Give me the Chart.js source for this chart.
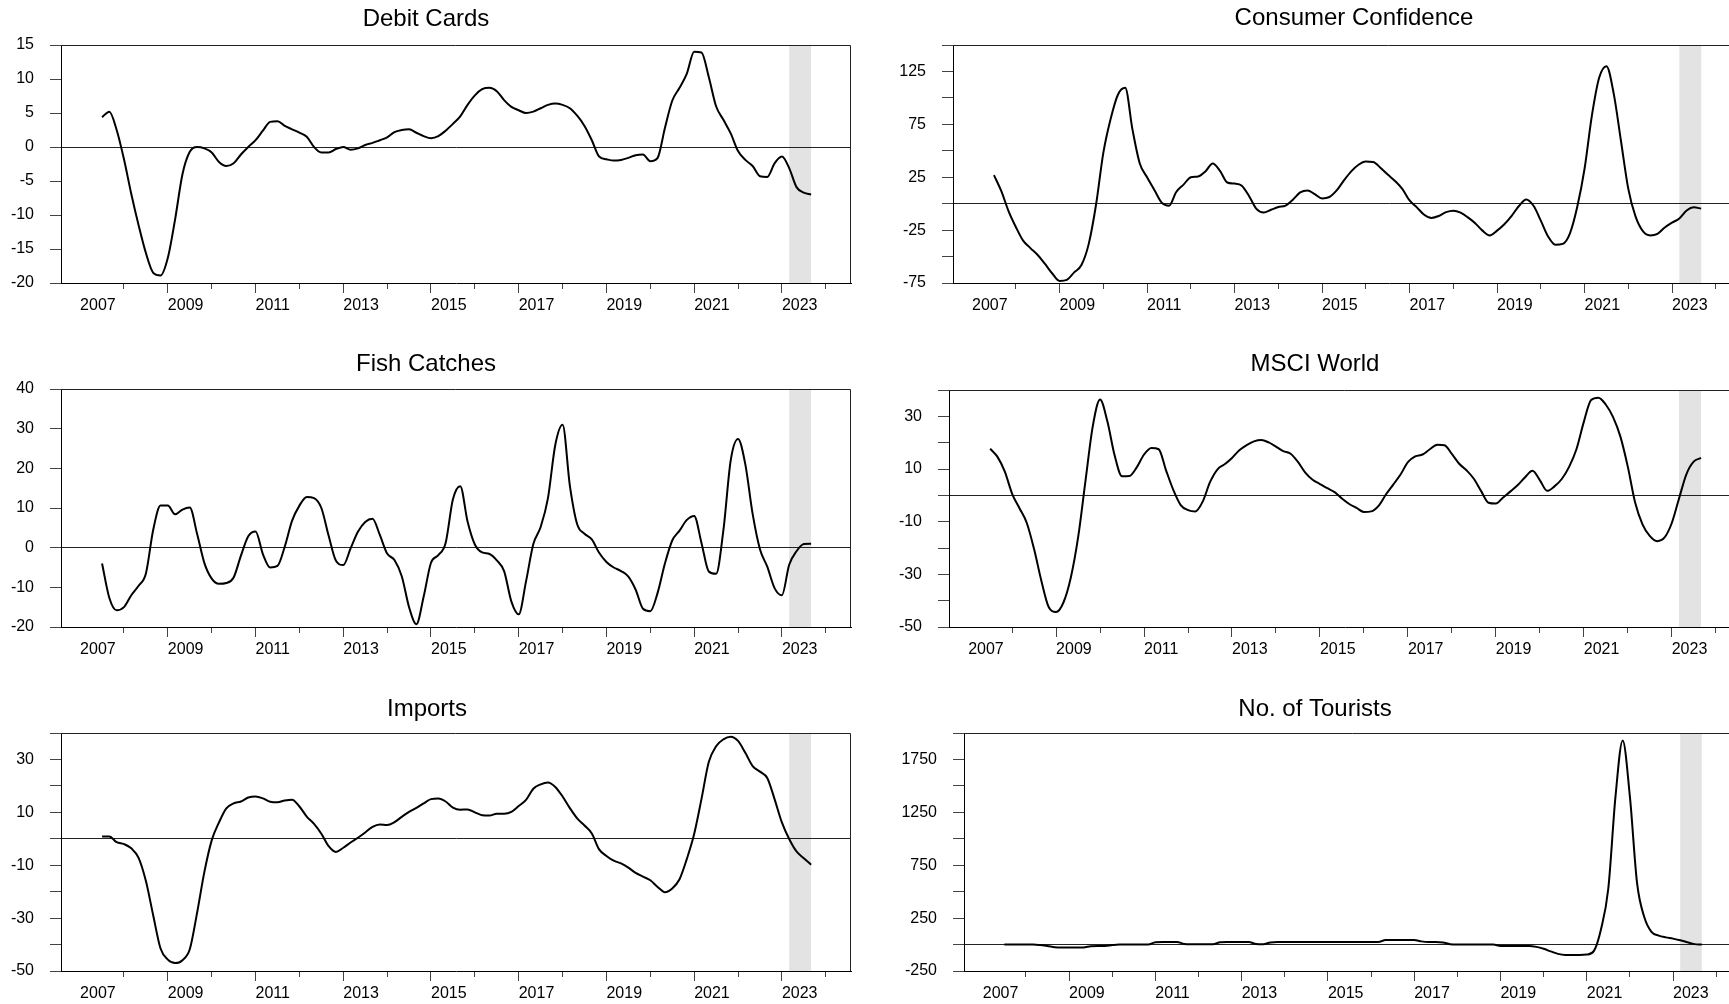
<!DOCTYPE html>
<html>
<head>
<meta charset="utf-8">
<script src="https://cdn.jsdelivr.net/npm/chart.js@4.4.0/dist/chart.umd.min.js"></script>
<style>
  html, body { margin: 0; padding: 0; background: #fff; overflow: hidden; }
  body { width: 1729px; height: 1004px; position: relative; }
  canvas { position: absolute; }
</style>
</head>
<body>
<script>
// observations every second month, Jul 2007 .. Sep 2023
const firstObs = 2007.5;
const obsStep = 1 / 6;
const yearTicks = [2007, 2008, 2009, 2010, 2011, 2012, 2013, 2014, 2015, 2016, 2017, 2018, 2019, 2020, 2021, 2022, 2023, 2024];
const yearLabels = [2007, 2009, 2011, 2013, 2015, 2017, 2019, 2021, 2023];
const xRange = [2006.564, 2024.576];
const shadeRange = [2023 + 2 / 12, 2023 + 8 / 12];

const titles = ['Debit Cards', 'Consumer Confidence', 'Fish Catches', 'MSCI World', 'Imports', 'No. of Tourists'];

const debitCards = [4.4, 5.2, 2.5, -1.8, -6.9, -11.5, -15.6, -18.5, -18.9, -16.3,
  -10.6, -4.0, -0.7, 0.0, -0.2, -0.8, -2.2, -2.8, -2.4, -1.1,
  0.0, 1.0, 2.4, 3.7, 3.8, 3.1, 2.6, 2.1, 1.5, 0.0,
  -0.8, -0.8, -0.3, 0.0, -0.4, -0.2, 0.3, 0.6, 1.0, 1.4,
  2.2, 2.5, 2.6, 2.1, 1.6, 1.3, 1.6, 2.4, 3.4, 4.5,
  6.2, 7.6, 8.5, 8.7, 8.2, 6.9, 5.9, 5.4, 5.0, 5.2,
  5.7, 6.2, 6.4, 6.2, 5.7, 4.6, 3.1, 1.0, -1.4, -1.8,
  -2.0, -1.9, -1.6, -1.2, -1.1, -2.1, -1.6, 2.8, 6.8, 8.7,
  10.8, 14.0, 13.9, 10.3, 6.0, 4.0, 2.0, -0.6, -1.9, -2.8,
  -4.3, -4.4, -2.4, -1.4, -3.1, -5.9, -6.7, -7.0];

const consumerConfidence = [27, 12, -7, -22, -35, -42, -48.5, -57, -66, -73,
  -72, -65, -58, -38, -1, 48, 80, 103, 109.5, 70,
  38, 25, 13, 1, -2, 11, 18, 25, 25.7, 30.5,
  38, 31, 20, 19, 17, 7, -5, -8.4, -5.8, -3.2,
  -1.8, 3.8, 10.6, 12.5, 9, 5, 6.3, 12.5, 22, 30.5,
  36.8, 39.8, 39.5, 34, 27.5, 21.5, 14, 3, -3.5, -10.5,
  -13.5, -11.7, -8, -6.6, -8.5, -13, -18.5, -25.5, -30, -25.5,
  -19.5, -11.5, -2.2, 4, -2, -16, -31, -38.8, -38, -28,
  -3, 33, 83, 119, 130, 104, 59, 14, -12.3, -26,
  -30, -28.5, -22.5, -18, -14, -6.5, -3.5, -4.7];

const fishCatches = [-4, -12.7, -15.8, -15, -12, -9.6, -6.5, 4.5, 10.6, 10.6,
  8.4, 9.6, 10.1, 3.5, -3.9, -7.8, -9.1, -8.9, -7.5, -2,
  2.9, 4.1, -1.6, -5, -4.6, 0.3, 6.8, 10.6, 12.8, 12.5,
  10, 3, -3.3, -4.4, -0.2, 4, 6.5, 7.3, 3.2, -1.5,
  -3.1, -7.2, -15, -19.3, -12.3, -3.8, -1.9, 1.2, 12.2, 15.5,
  6.6, 0.8, -1.2, -1.6, -3.2, -5.9, -13.6, -16.8, -8.5, 0.9,
  5.2, 12.5, 25.9, 31, 15.6, 5.9, 3.5, 2.1, -1.3, -3.6,
  -5, -5.9, -7.3, -10.6, -15.4, -16, -11.4, -4, 1.8, 4.3,
  7, 8, 1.2, -6, -6.6, 4.4, 22, 27.4, 21, 8.5,
  -0.4, -4.8, -10.2, -12, -4.3, -0.9, 0.9, 1.0];

const msciWorld = [17.7, 14.6, 9, 0.6, -4.9, -10.5, -20.5, -32.6, -42.5, -44.3,
  -40.7, -31.3, -16, 5.3, 26.2, 36.4, 28, 15, 7.2, 7.3,
  10.6, 15.5, 18, 17.5, 9.5, 2, -3.7, -5.6, -6.1, -2.4,
  5, 9.8, 11.8, 14.2, 17.1, 19.1, 20.5, 21, 20.1, 18.5,
  16.8, 15.8, 12.7, 8.6, 5.9, 4.3, 2.7, 1.2, -1.2, -3.3,
  -4.8, -6.3, -6.1, -4, 0.3, 4.1, 7.9, 12.6, 14.8, 15.5,
  17.5, 19.2, 19, 15.7, 12, 9.5, 6.3, 1.6, -2.8, -3.1,
  -0.8, 1.5, 3.9, 6.9, 9.3, 5.8, 1.7, 3.4, 6.2, 10.8,
  17.5, 27.8, 36.2, 37.1, 34.5, 29.7, 22.3, 11, -2.6, -10.9,
  -15.4, -17.4, -16.1, -10.6, -1.2, 8, 12.8, 14.2];

const imports = [0.9, 0.9, -1.3, -2, -3.6, -7.2, -16, -29, -41.5, -45.7,
  -47, -45.9, -41.8, -28, -12.5, -0.6, 6.2, 11.5, 13.4, 14.1,
  15.6, 16, 15.3, 14, 13.8, 14.5, 14.8, 12.2, 8.4, 5.6,
  1.9, -2.8, -5, -3.4, -1.4, 0.4, 2.4, 4.5, 5.4, 5.2,
  6.3, 8.3, 10.2, 11.7, 13.4, 15, 15.2, 14.1, 11.8, 11,
  11.1, 10, 8.9, 8.8, 9.5, 9.5, 10.2, 12.4, 14.7, 18.9,
  20.6, 21.3, 19.6, 16, 11.6, 7.7, 5, 2, -4, -6.5,
  -8.3, -9.3, -10.9, -12.9, -14.3, -15.7, -18.2, -20.2, -18.8, -15.3,
  -7.6, 1.8, 15, 29, 35, 37.6, 38.6, 37, 32.5, 27.5,
  25.4, 23, 15, 6.2, -0.1, -4.8, -7.4, -9.8];

const tourists = [0, 0, 0, 0, 0, -5, -13, -25, -28, -28,
  -28, -28, -15, -13, -13, -5, 0, 0, 0, 0,
  0, 22, 25, 25, 25, 6, 3, 3, 3, 3,
  22, 25, 25, 25, 25, 5, 3, 20, 25, 25,
  25, 25, 25, 25, 25, 25, 25, 25, 25, 25,
  25, 25, 25, 42, 44, 44, 44, 44, 30, 25,
  25, 20, 3, 0, 0, 0, 0, 0, 0, -13,
  -13, -13, -13, -13, -22, -40, -65, -88, -98, -98,
  -98, -95, -60, 150, 530, 1400, 1930, 1400, 580, 260,
  120, 85, 68, 56, 40, 22, 4, 0];

const debitTicks = [-20, -15, -10, -5, 0, 5, 10, 15];
const debitLabels = [-20, -15, -10, -5, 0, 5, 10, 15];
const confTicks = [-75, -50, -25, 0, 25, 50, 75, 100, 125, 150];
const confLabels = [-75, -25, 25, 75, 125];
const fishTicks = [-20, -10, 0, 10, 20, 30, 40];
const fishLabels = [-20, -10, 0, 10, 20, 30, 40];
const msciTicks = [-50, -40, -30, -20, -10, 0, 10, 20, 30, 40];
const msciLabels = [-50, -30, -10, 10, 30];
const importTicks = [-50, -40, -30, -20, -10, 0, 10, 20, 30, 40];
const importLabels = [-50, -30, -10, 10, 30];
const touristTicks = [-250, 0, 250, 500, 750, 1000, 1250, 1500, 1750, 2000];
const touristLabels = [-250, 250, 750, 1250, 1750];

const obsDates = [];
for (let i = 0; i < debitCards.length; i++) obsDates.push(firstObs + i * obsStep);

// page geometry: plot box, title centre, and how far the canvas runs right
const boxes = [
  {L: 61, T: 45, R: 851, B: 283, tx: 426, ty: 19, ext: 851},
  {L: 953, T: 45, R: 1741, B: 283, tx: 1354, ty: 18, ext: 1825},
  {L: 61, T: 389, R: 851, B: 627, tx: 426, ty: 364, ext: 851},
  {L: 949, T: 390, R: 1741, B: 627, tx: 1315, ty: 364, ext: 1741},
  {L: 61, T: 733, R: 851, B: 971, tx: 427, ty: 709, ext: 851},
  {L: 964, T: 733, R: 1741, B: 971, tx: 1315, ty: 709, ext: 1741}
];
const TITLE_SIZE = 24;

Chart.defaults.font.family = '"Liberation Sans", Arial, Helvetica, sans-serif';
Chart.defaults.font.size = 16;
Chart.defaults.color = '#000';

const frame = {
  id: 'frame',
  beforeDraw(chart) {
    const {ctx, chartArea: a, scales: {x}} = chart;
    const x0 = x.getPixelForValue(shadeRange[0]);
    const x1 = x.getPixelForValue(shadeRange[1]);
    ctx.save();
    ctx.fillStyle = '#e3e3e3';
    ctx.fillRect(x0, a.top, x1 - x0, a.bottom - a.top);
    ctx.restore();
  },
  afterDatasetsDraw(chart) {
    const {ctx, chartArea: a} = chart;
    ctx.save();
    ctx.strokeStyle = '#222';
    ctx.lineWidth = 1;
    ctx.beginPath();
    const top = Math.round(a.top) + 0.5;
    const right = Math.round(a.right) - 0.5;
    ctx.moveTo(a.left, top);
    ctx.lineTo(right, top);
    ctx.lineTo(right, a.bottom);
    ctx.stroke();
    ctx.restore();
  }
};

function makePanel(title, values, ticks, labels, box) {
  const left = 2 * box.tx - box.ext;
  const top = box.T - 45;
  const w = box.ext - left + 2;
  const h = box.B - top + 40;
  const cv = document.createElement('canvas');
  cv.width = w;
  cv.height = h;
  cv.style.left = left + 'px';
  cv.style.top = top + 'px';
  cv.style.width = w + 'px';
  cv.style.height = h + 'px';
  document.body.appendChild(cv);

  const pxPerYear = (box.R - box.L) / (xRange[1] - xRange[0]);
  const xmax = xRange[0] + (box.ext - box.L) / pxPerYear;
  const lh = TITLE_SIZE * 1.2;
  const tp = box.ty - top - lh / 2;
  const tb = box.T - top - tp - lh;

  new Chart(cv, {
    type: 'line',
    data: {
      datasets: [{
        data: values.map((v, i) => ({x: obsDates[i], y: v})),
        borderColor: '#000',
        borderWidth: 2,
        pointRadius: 0,
        fill: false,
        cubicInterpolationMode: 'monotone'
      }]
    },
    options: {
      responsive: false,
      animation: false,
      layout: {padding: {left: 0, right: 2, top: 0, bottom: 0}},
      plugins: {
        legend: {display: false},
        tooltip: {enabled: false},
        title: {
          display: true,
          text: title,
          color: '#000',
          font: {size: TITLE_SIZE, weight: 'normal'},
          padding: {top: tp, bottom: tb}
        }
      },
      scales: {
        x: {
          type: 'linear',
          bounds: 'data',
          min: xRange[0],
          max: xmax,
          afterBuildTicks: s => { s.ticks = yearTicks.map(v => ({value: v})); },
          afterFit: s => { s.height = 40; },
          grid: {
            drawOnChartArea: false,
            tickLength: 10,
            tickColor: c => (c.tick && c.tick.value === 2007) ? 'rgba(0,0,0,0)' : '#444',
            tickBorderDash: c => (c.tick && c.tick.value % 2 === 0) ? [5, 50] : []
          },
          border: {color: '#000', width: 1},
          ticks: {
            align: 'start',
            autoSkip: false,
            maxRotation: 0,
            padding: 3.4,
            color: '#000',
            callback: v => yearLabels.includes(v) ? String(v) : ''
          }
        },
        y: {
          bounds: 'data',
          min: ticks[0],
          max: ticks[ticks.length - 1],
          afterBuildTicks: s => { s.ticks = ticks.map(v => ({value: v})); },
          afterFit: s => { s.width = box.L - left; },
          grid: {
            color: c => (c.tick && c.tick.value === 0) ? '#222' : 'rgba(0,0,0,0)',
            tickColor: '#444',
            tickLength: 11
          },
          border: {color: '#000', width: 1},
          ticks: {
            padding: 16,
            color: '#000',
            callback: v => labels.includes(v) ? String(v) : ''
          }
        }
      }
    },
    plugins: [frame]
  });
}

makePanel(titles[0], debitCards, debitTicks, debitLabels, boxes[0]);
makePanel(titles[1], consumerConfidence, confTicks, confLabels, boxes[1]);
makePanel(titles[2], fishCatches, fishTicks, fishLabels, boxes[2]);
makePanel(titles[3], msciWorld, msciTicks, msciLabels, boxes[3]);
makePanel(titles[4], imports, importTicks, importLabels, boxes[4]);
makePanel(titles[5], tourists, touristTicks, touristLabels, boxes[5]);
</script>
</body>
</html>
